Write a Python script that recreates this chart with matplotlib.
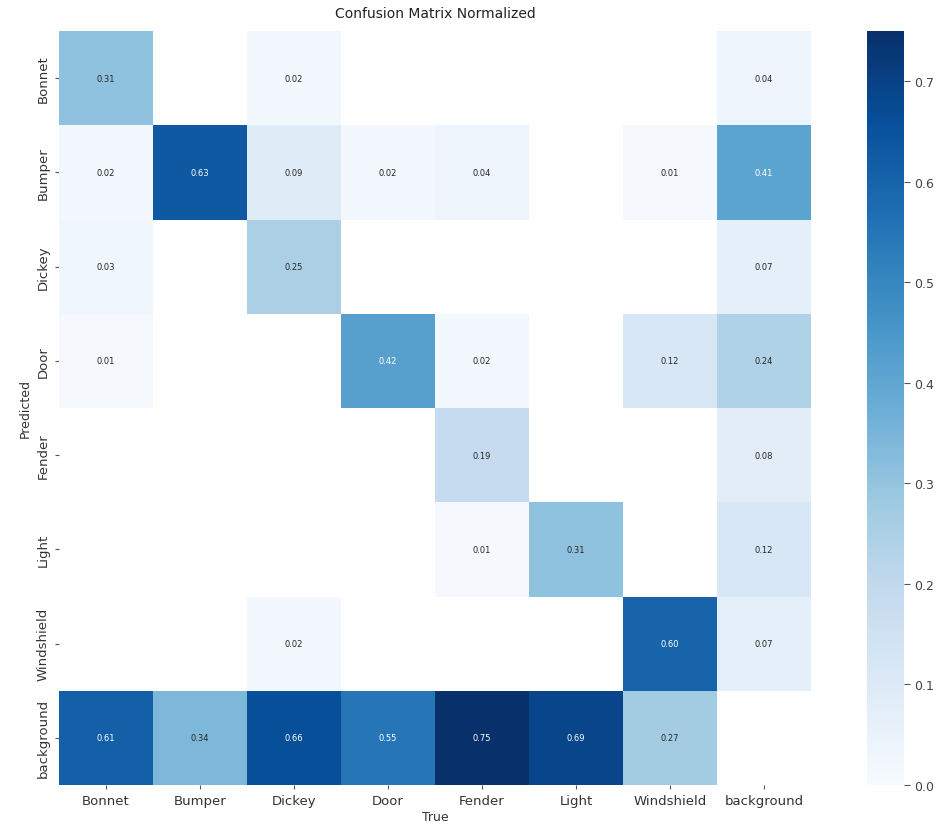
import numpy as np
import matplotlib
matplotlib.use("Agg")
import matplotlib.pyplot as plt
import seaborn as sns

classes = ["Bonnet", "Bumper", "Dickey", "Door", "Fender", "Light", "Windshield", "background"]

nan = np.nan
# rows = predicted, columns = true
row_bonnet = [0.31, nan, 0.02, nan, nan, nan, nan, 0.04]
row_bumper = [0.02, 0.63, 0.09, 0.02, 0.04, nan, 0.01, 0.41]
row_dickey = [0.03, nan, 0.25, nan, nan, nan, nan, 0.07]
row_door = [0.01, nan, nan, 0.42, 0.02, nan, 0.12, 0.24]
row_fender = [nan, nan, nan, nan, 0.19, nan, nan, 0.08]
row_light = [nan, nan, nan, nan, 0.01, 0.31, nan, 0.12]
row_windshield = [nan, nan, 0.02, nan, nan, nan, 0.60, 0.07]
row_background = [0.61, 0.34, 0.66, 0.55, 0.75, 0.69, 0.27, nan]

matrix = np.array([row_bonnet, row_bumper, row_dickey, row_door,
                   row_fender, row_light, row_windshield, row_background])

sns.set_theme(style="white", font_scale=1.0)
plt.rcParams["font.family"] = ["DejaVu Sans"]

W, H = 952, 828
fig = plt.figure(figsize=(W / 100, H / 100), dpi=100)
fig.patch.set_facecolor("white")

ax = fig.add_axes([59 / W, (H - 786) / H, 752 / W, 754 / H])
cax = fig.add_axes([867 / W, (H - 786) / H, 37 / W, 754 / H])

sns.heatmap(matrix, ax=ax, cbar_ax=cax, annot=True, annot_kws={"size": 6},
            cmap="Blues", fmt=".2f", vmin=0.0,
            xticklabels=classes, yticklabels=classes)
ax.set_facecolor((1, 1, 1))

ax.set_title("Confusion Matrix Normalized", fontsize=10, color="#222222", pad=10)
ax.set_xlabel("True", fontsize=9, color="#333333", labelpad=2)
ax.set_ylabel("Predicted", fontsize=9, color="#333333", labelpad=4)

ax.tick_params(axis="both", which="major", bottom=True, left=True, length=3,
               width=0.8, color="#555555", labelsize=9.5, labelcolor="#333333")
ax.tick_params(axis="x", rotation=0)
ax.tick_params(axis="y", rotation=90)
for lbl in ax.get_yticklabels():
    lbl.set_va("center")

cax.tick_params(right=True, length=4, width=0.8, color="#555555",
                labelsize=9, labelcolor="#444444")
cax.set_yticks([0.0, 0.1, 0.2, 0.3, 0.4, 0.5, 0.6, 0.7])

fig.savefig("out.png", dpi=100, facecolor="white")
